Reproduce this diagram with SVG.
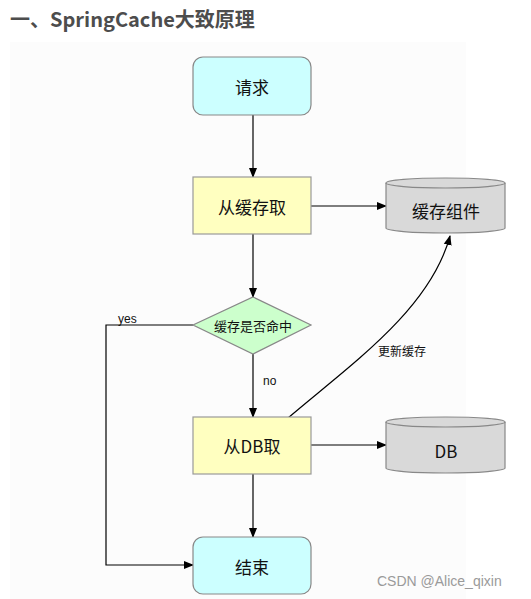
<svg xmlns="http://www.w3.org/2000/svg" width="531" height="599" viewBox="0 0 531 599">
<style>
.t{font-family:"Noto Sans CJK SC","Liberation Sans",sans-serif;fill:#111;text-anchor:middle;dominant-baseline:central}
.n{font-size:17px}
.edge{fill:none;stroke:#000;stroke-width:1.2}
.lbl{font-family:"Liberation Sans","Noto Sans CJK SC",sans-serif;font-size:12px;fill:#111}
.term{fill:#ccffff;stroke:#888;stroke-width:1.2}
.proc{fill:#ffffc0;stroke:#999;stroke-width:1.2}
.cyl{fill:#d9d9d9;stroke:#888;stroke-width:1.2}
</style>
<defs>
<marker id="arr" viewBox="0 0 10 10" refX="9" refY="5" markerWidth="10" markerHeight="10" markerUnits="userSpaceOnUse" orient="auto">
<path d="M0,1 L10,5 L0,9 Z" fill="#000"/>
</marker>
</defs>
<rect width="531" height="599" fill="#fff"/>
<rect x="10" y="42" width="456" height="557" fill="#fcfcfc"/>
<text x="10" y="27" font-family="Noto Sans CJK SC,Liberation Sans,sans-serif" font-size="20" font-weight="bold" fill="#4d4d4d">一、SpringCache大致原理</text>

<g id="edges">
<line class="edge" x1="253" y1="115" x2="253" y2="177" marker-end="url(#arr)"/>
<line class="edge" x1="311" y1="206" x2="386" y2="206" marker-end="url(#arr)"/>
<line class="edge" x1="253" y1="234" x2="253" y2="297" marker-end="url(#arr)"/>
<polyline class="edge" points="193,325 106,325 106,565 193,565" marker-end="url(#arr)"/>
<text class="lbl" x="118" y="323">yes</text>
<line class="edge" x1="253" y1="354" x2="253" y2="417" marker-end="url(#arr)"/>
<text class="lbl" x="263" y="385">no</text>
<line class="edge" x1="311" y1="445" x2="386" y2="445" marker-end="url(#arr)"/>
<line class="edge" x1="253" y1="474" x2="253" y2="537" marker-end="url(#arr)"/>
<path class="edge" d="M288,418 C350,365 430,310 450,236" marker-end="url(#arr)"/>
<text class="lbl" x="378" y="356" font-family="Noto Sans CJK SC,sans-serif">更新缓存</text>
</g>

<g id="req">
<rect class="term" x="193" y="57" width="118" height="58" rx="10"/>
<text class="t n" x="252" y="86">请求</text>
</g>
<g id="getCache">
<rect class="proc" x="193" y="177" width="118" height="57"/>
<text class="t n" x="252" y="206">从缓存取</text>
</g>
<g id="cache">
<path class="cyl" d="M386,183 L386,228 A59.5,5 0 0 0 505,228 L505,183 A59.5,5 0 0 0 386,183 Z"/>
<path fill="none" stroke="#888" stroke-width="1.2" d="M386,183 A59.5,5 0 0 0 505,183"/>
<text class="t n" x="446" y="210">缓存组件</text>
</g>
<g id="hit">
<polygon points="253,297 311,325 253,354 193,325" fill="#ccffcc" stroke="#888" stroke-width="1.2"/>
<text class="t" x="253" y="325" font-size="13">缓存是否命中</text>
</g>
<g id="getDB">
<rect class="proc" x="193" y="417" width="118" height="57"/>
<text class="t n" x="252" y="445" font-family="Liberation Sans,Noto Sans CJK SC,sans-serif">从DB取</text>
</g>
<g id="db">
<path class="cyl" d="M386,422 L386,468 A59.5,5 0 0 0 505,468 L505,422 A59.5,5 0 0 0 386,422 Z"/>
<path fill="none" stroke="#888" stroke-width="1.2" d="M386,422 A59.5,5 0 0 0 505,422"/>
<text class="t n" x="446" y="450" font-family="Liberation Sans,sans-serif">DB</text>
</g>
<g id="end">
<rect class="term" x="193" y="537" width="118" height="57" rx="10"/>
<text class="t n" x="252" y="566">结束</text>
</g>
<text x="377" y="586" font-family="Liberation Sans,sans-serif" font-size="14" fill="#9a9a9a">CSDN @Alice_qixin</text>
</svg>
